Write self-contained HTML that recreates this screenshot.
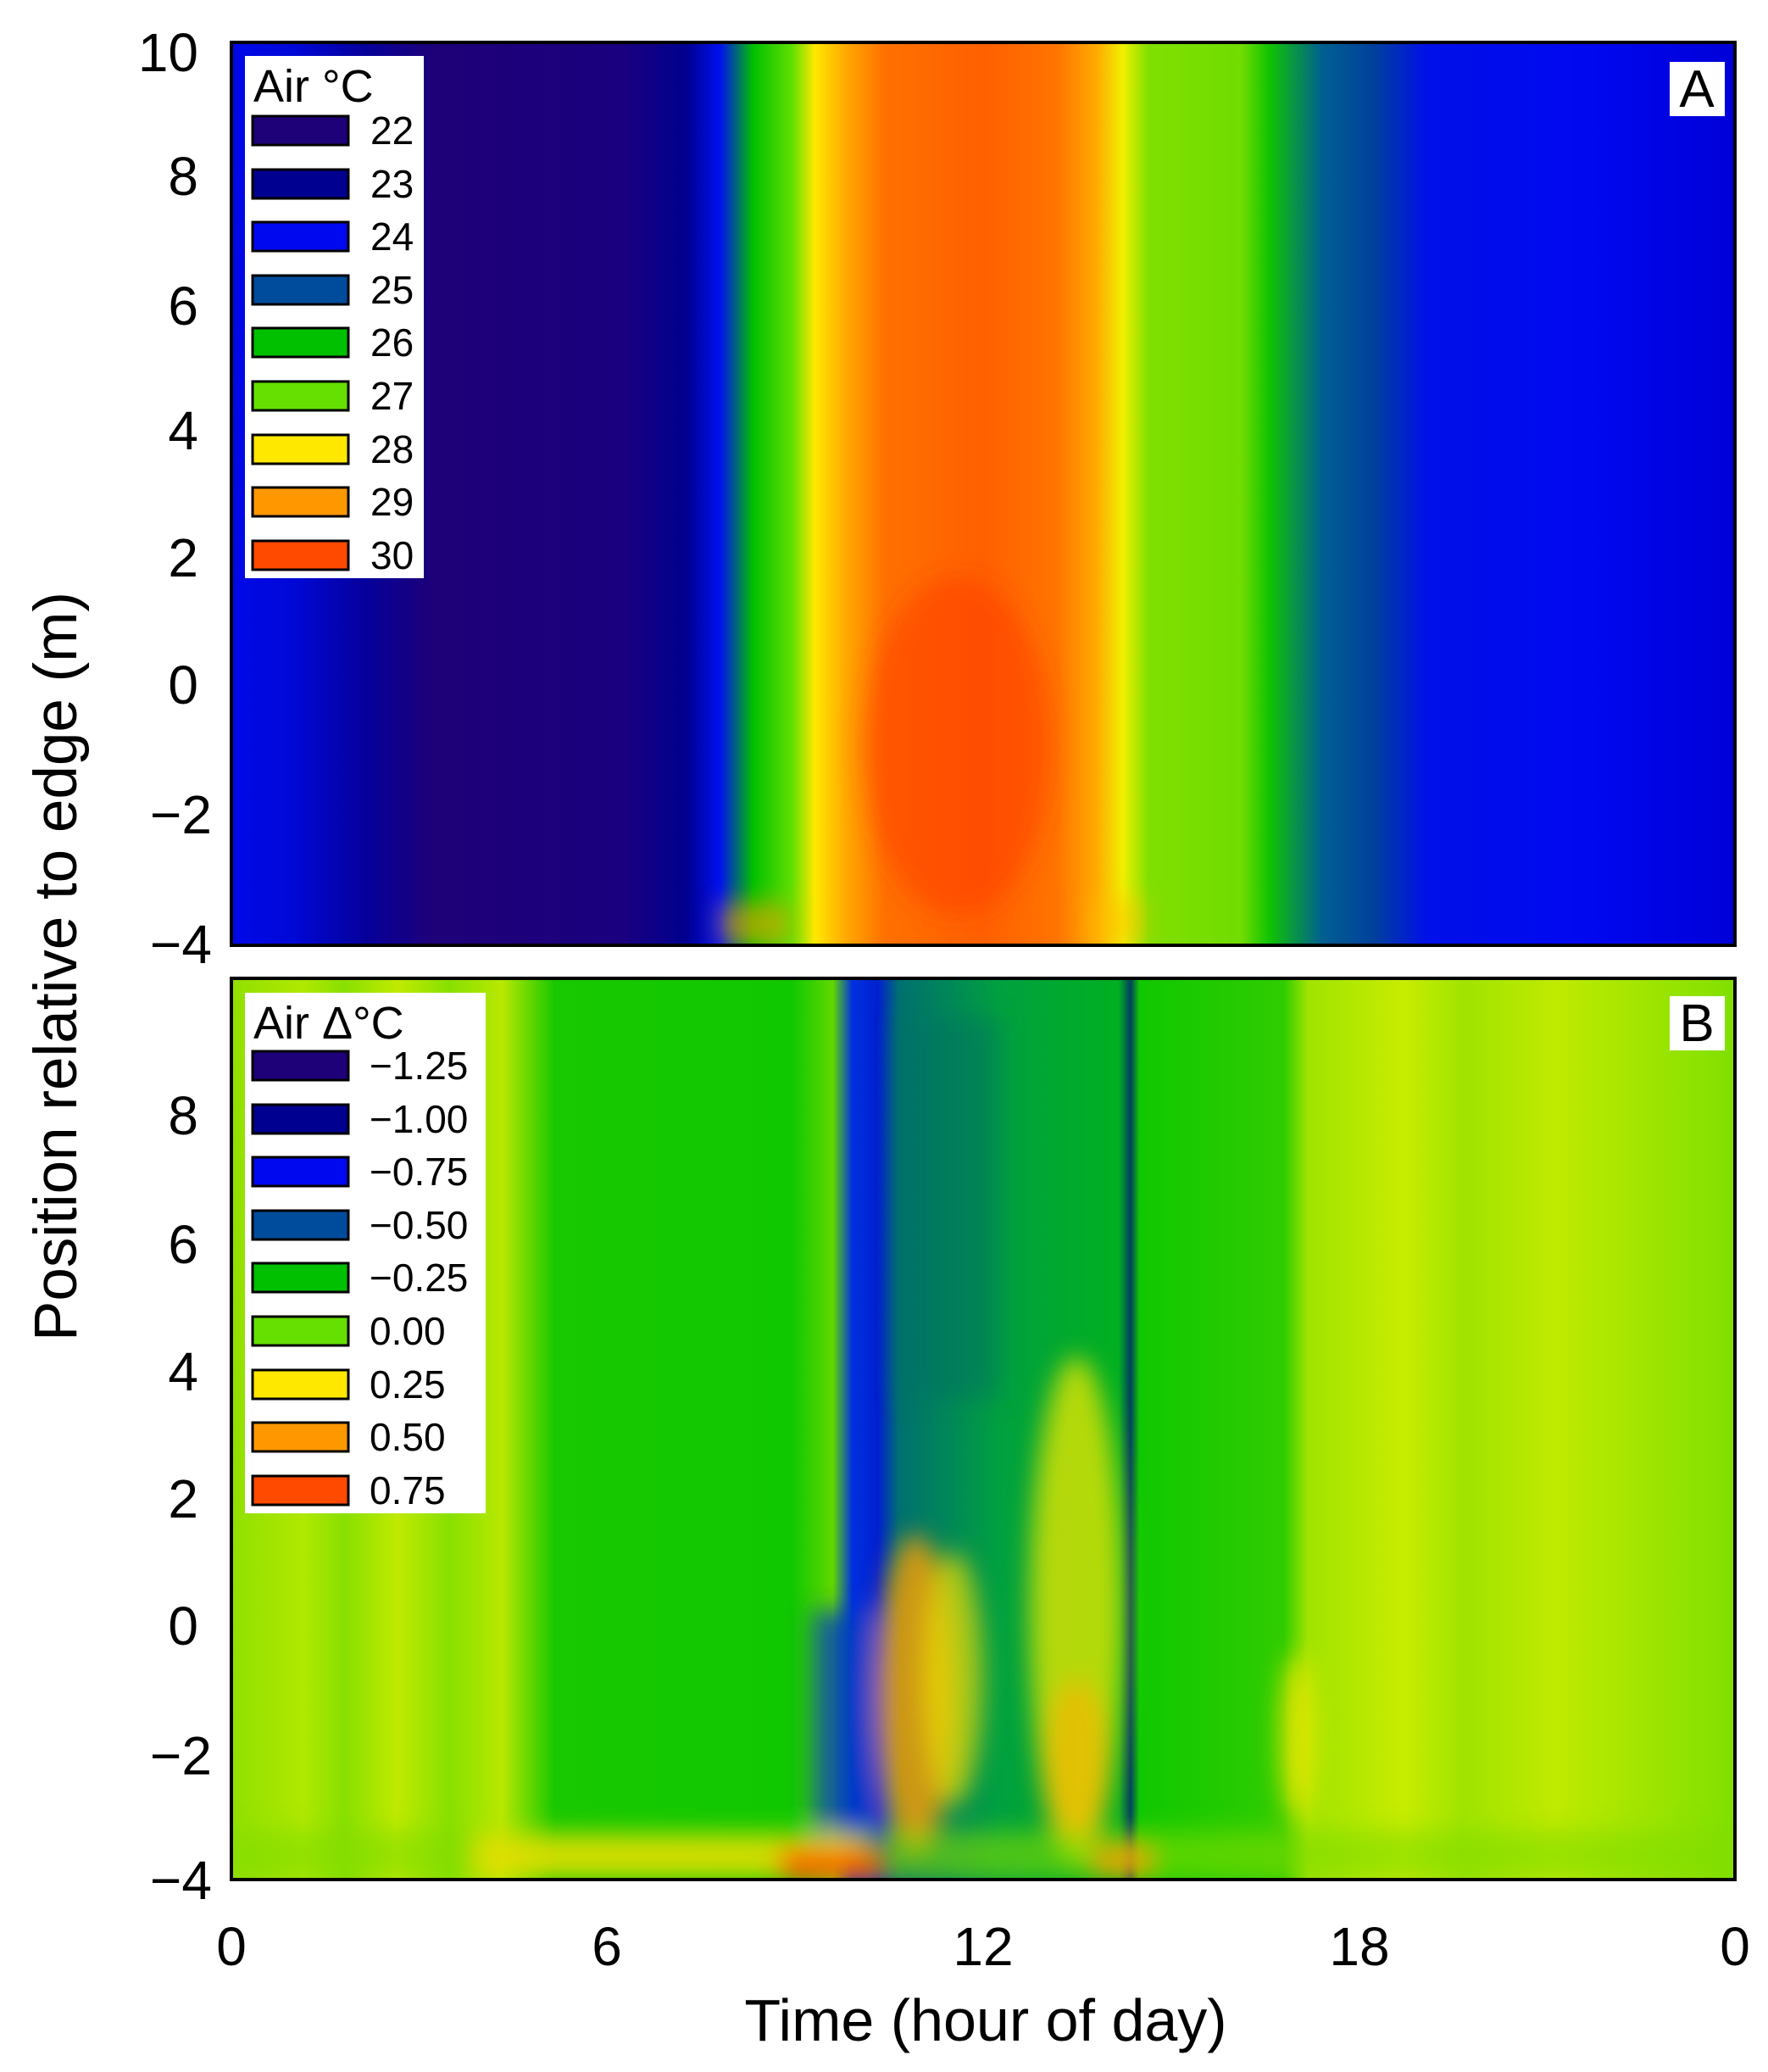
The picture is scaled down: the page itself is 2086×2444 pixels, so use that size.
<!DOCTYPE html>
<html><head><meta charset="utf-8"><style>
html,body{margin:0;padding:0;background:#fff;}
svg{display:block;font-family:"Liberation Sans",Arial,sans-serif;}
</style></head><body>
<svg width="2086" height="2444" viewBox="0 0 2086 2444" xmlns="http://www.w3.org/2000/svg">
<defs>
<linearGradient id="gA" x1="0" x2="1" y1="0" y2="0">
<stop offset="0" stop-color="#0008e8"/>
<stop offset="0.04" stop-color="#0008d8"/>
<stop offset="0.09" stop-color="#06009a"/>
<stop offset="0.136" stop-color="#1e0078"/>
<stop offset="0.26" stop-color="#1a007e"/>
<stop offset="0.303" stop-color="#000090"/>
<stop offset="0.325" stop-color="#0010f0"/>
<stop offset="0.347" stop-color="#00c000"/>
<stop offset="0.373" stop-color="#60e000"/>
<stop offset="0.388" stop-color="#ffe800"/>
<stop offset="0.409" stop-color="#ffa800"/>
<stop offset="0.435" stop-color="#ff7000"/>
<stop offset="0.50" stop-color="#ff6000"/>
<stop offset="0.549" stop-color="#ff7400"/>
<stop offset="0.576" stop-color="#ffac00"/>
<stop offset="0.593" stop-color="#f0f000"/>
<stop offset="0.61" stop-color="#80e000"/>
<stop offset="0.672" stop-color="#70dc00"/>
<stop offset="0.69" stop-color="#10c400"/>
<stop offset="0.725" stop-color="#006090"/>
<stop offset="0.76" stop-color="#00409c"/>
<stop offset="0.795" stop-color="#0010e8"/>
<stop offset="0.9" stop-color="#0008f0"/>
<stop offset="1" stop-color="#0000d8"/>
</linearGradient>
<linearGradient id="gB" x1="0" x2="1" y1="0" y2="0">
<stop offset="0" stop-color="#90e000"/>
<stop offset="0.048" stop-color="#b0e800"/>
<stop offset="0.075" stop-color="#88e000"/>
<stop offset="0.11" stop-color="#c0ea00"/>
<stop offset="0.145" stop-color="#88e000"/>
<stop offset="0.18" stop-color="#b8e800"/>
<stop offset="0.215" stop-color="#18c800"/>
<stop offset="0.373" stop-color="#10c800"/>
<stop offset="0.40" stop-color="#60d800"/>
<stop offset="0.413" stop-color="#0030e0"/>
<stop offset="0.43" stop-color="#0020d0"/>
<stop offset="0.444" stop-color="#007070"/>
<stop offset="0.51" stop-color="#00a040"/>
<stop offset="0.59" stop-color="#00b020"/>
<stop offset="0.598" stop-color="#004060"/>
<stop offset="0.604" stop-color="#10c800"/>
<stop offset="0.70" stop-color="#30cc00"/>
<stop offset="0.716" stop-color="#a0e400"/>
<stop offset="0.78" stop-color="#c8ec00"/>
<stop offset="0.82" stop-color="#a0e400"/>
<stop offset="0.88" stop-color="#c0ea00"/>
<stop offset="1" stop-color="#80e000"/>
</linearGradient>
<filter id="bl" x="-50%" y="-50%" width="200%" height="200%"><feGaussianBlur stdDeviation="14"/></filter>
<clipPath id="cA"><rect x="273" y="50" width="1774" height="1065"/></clipPath>
<clipPath id="cB"><rect x="273" y="1154" width="1774" height="1063"/></clipPath>
</defs>

<!-- Panel A -->
<rect x="273" y="50" width="1774" height="1065" fill="url(#gA)"/>
<g clip-path="url(#cA)" filter="url(#bl)">
<ellipse cx="1130" cy="880" rx="110" ry="200" fill="#ff3000" opacity="0.45"/>
<rect x="850" y="1065" width="80" height="50" fill="#ffa000" opacity="0.6"/>
<rect x="1290" y="1060" width="60" height="55" fill="#ffc000" opacity="0.5"/>
</g>
<rect x="273" y="50" width="1774" height="1065" fill="none" stroke="#000" stroke-width="4"/>

<!-- Panel B -->
<rect x="273" y="1154" width="1774" height="1063" fill="url(#gB)"/>
<g clip-path="url(#cB)" filter="url(#bl)">
<rect x="960" y="1900" width="70" height="270" fill="#0040c0" opacity="0.8"/>
<rect x="1060" y="1200" width="120" height="450" fill="#007060" opacity="0.5"/>
<ellipse cx="1080" cy="2000" rx="45" ry="190" fill="#ffa000" opacity="0.8"/>
<ellipse cx="1270" cy="1900" rx="55" ry="300" fill="#f0e800" opacity="0.75"/>
<ellipse cx="1270" cy="2080" rx="40" ry="100" fill="#ffb000" opacity="0.6"/>
<ellipse cx="1125" cy="1980" rx="35" ry="150" fill="#f0e000" opacity="0.7"/>
<ellipse cx="1530" cy="2050" rx="20" ry="100" fill="#f8e800" opacity="0.8"/>
<rect x="273" y="2160" width="1774" height="57" fill="#80dc00" opacity="0.6"/>
<rect x="560" y="2165" width="460" height="50" fill="#f0e000" opacity="0.8"/>
<rect x="920" y="2180" width="120" height="40" fill="#ff5000" opacity="0.8"/>
<rect x="1290" y="2175" width="70" height="40" fill="#ffa000" opacity="0.8"/>
</g>
<rect x="273" y="1154" width="1774" height="1063" fill="none" stroke="#000" stroke-width="4"/>

<!-- Legend A -->
<rect x="289" y="66" width="211" height="616" fill="#fff"/>
<text x="299" y="120" font-size="54">Air °C</text>
<g stroke="#000" stroke-width="3">
<rect x="298" y="137" width="113" height="34" fill="#1e0078"/>
<rect x="298" y="200" width="113" height="34" fill="#000090"/>
<rect x="298" y="262" width="113" height="34" fill="#0008f0"/>
<rect x="298" y="325" width="113" height="34" fill="#004c9c"/>
<rect x="298" y="387" width="113" height="34" fill="#00c000"/>
<rect x="298" y="450" width="113" height="34" fill="#66e000"/>
<rect x="298" y="513" width="113" height="34" fill="#ffe800"/>
<rect x="298" y="575" width="113" height="34" fill="#ff9800"/>
<rect x="298" y="638" width="113" height="34" fill="#ff4a00"/>
</g>
<g font-size="46">
<text x="437" y="170">22</text><text x="437" y="233">23</text><text x="437" y="295">24</text>
<text x="437" y="358">25</text><text x="437" y="420">26</text><text x="437" y="483">27</text>
<text x="437" y="546">28</text><text x="437" y="608">29</text><text x="437" y="671">30</text>
</g>
<rect x="1970" y="73" width="65" height="64" fill="#fff"/>
<text x="2002" y="126" font-size="62" text-anchor="middle">A</text>

<!-- Legend B -->
<rect x="289" y="1171" width="284" height="614" fill="#fff"/>
<text x="299" y="1225" font-size="54">Air Δ°C</text>
<g stroke="#000" stroke-width="3">
<rect x="298" y="1240" width="113" height="34" fill="#1e0078"/>
<rect x="298" y="1303" width="113" height="34" fill="#000090"/>
<rect x="298" y="1365" width="113" height="34" fill="#0008f0"/>
<rect x="298" y="1428" width="113" height="34" fill="#004c9c"/>
<rect x="298" y="1490" width="113" height="34" fill="#00c000"/>
<rect x="298" y="1553" width="113" height="34" fill="#66e000"/>
<rect x="298" y="1616" width="113" height="34" fill="#ffe800"/>
<rect x="298" y="1678" width="113" height="34" fill="#ff9800"/>
<rect x="298" y="1741" width="113" height="34" fill="#ff4a00"/>
</g>
<g font-size="46">
<text x="436" y="1273">−1.25</text><text x="436" y="1336">−1.00</text><text x="436" y="1398">−0.75</text>
<text x="436" y="1461">−0.50</text><text x="436" y="1523">−0.25</text><text x="436" y="1586">0.00</text>
<text x="436" y="1649">0.25</text><text x="436" y="1711">0.50</text><text x="436" y="1774">0.75</text>
</g>
<rect x="1970" y="1175" width="65" height="64" fill="#fff"/>
<text x="2002" y="1228" font-size="62" text-anchor="middle">B</text>

<!-- Y tick labels A -->
<g font-size="64" text-anchor="end">
<text x="234" y="84">10</text>
<text x="234" y="230">8</text>
<text x="234" y="383">6</text>
<text x="234" y="530">4</text>
<text x="234" y="680">2</text>
<text x="234" y="830">0</text>
<text x="250" y="983">−2</text>
<text x="250" y="1136">−4</text>
<!-- B -->
<text x="234" y="1338">8</text>
<text x="234" y="1490">6</text>
<text x="234" y="1640">4</text>
<text x="234" y="1790">2</text>
<text x="234" y="1940">0</text>
<text x="250" y="2093">−2</text>
<text x="250" y="2240">−4</text>
</g>
<!-- X tick labels -->
<g font-size="64" text-anchor="middle">
<text x="273" y="2318">0</text>
<text x="716" y="2318">6</text>
<text x="1160" y="2318">12</text>
<text x="1604" y="2318">18</text>
<text x="2047" y="2318">0</text>
</g>
<text x="1163" y="2407" font-size="70" text-anchor="middle">Time (hour of day)</text>
<text transform="translate(90,1140) rotate(-90)" font-size="71" text-anchor="middle">Position relative to edge (m)</text>
</svg>
</body></html>
